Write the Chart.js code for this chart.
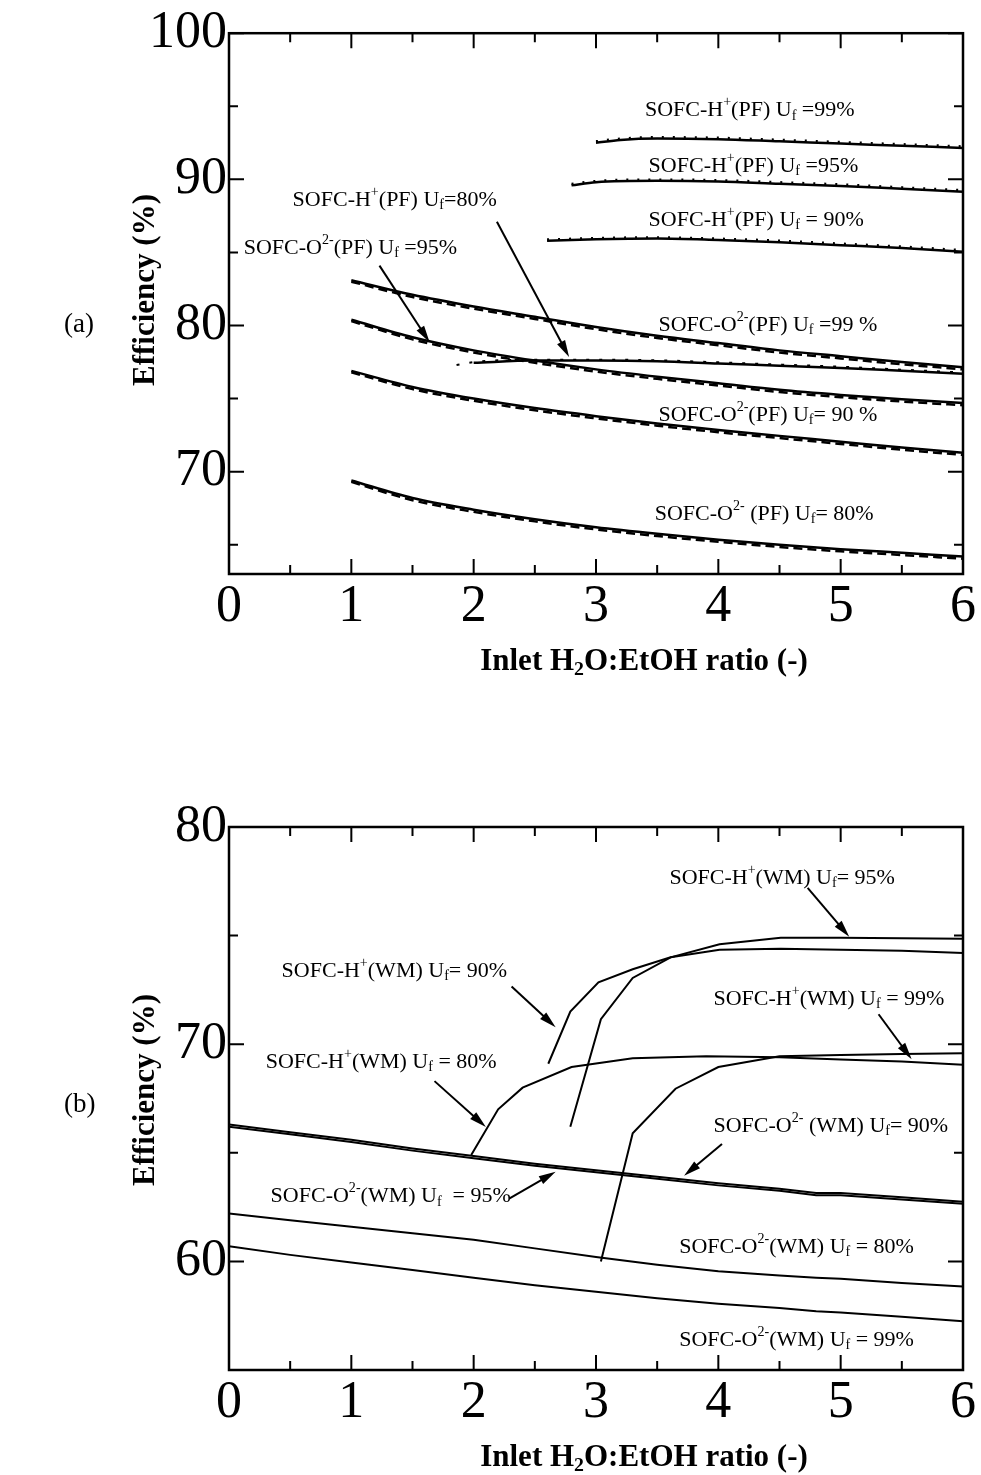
<!DOCTYPE html>
<html>
<head>
<meta charset="utf-8">
<script src="https://cdn.jsdelivr.net/npm/chart.js@4.4.1/dist/chart.umd.min.js"></script>
<style>
  html, body { margin: 0; padding: 0; background: #fff; }
  #page { position: relative; width: 981px; height: 1475px; overflow: hidden; background: #fff; }
  canvas { position: absolute; left: 0; }
  #chartA { top: 0; }
  #chartB { top: 760px; }
  .panel { position: absolute; left: 64px; font: 27px "Liberation Serif", serif; color: #000; }
</style>
</head>
<body>
<div id="page">
  <canvas id="chartA" width="981" height="700"></canvas>
  <canvas id="chartB" width="981" height="715"></canvas>
  <div class="panel" style="top:308px">(a)</div>
  <div class="panel" style="top:1088px">(b)</div>
</div>
<script>
// ---- shared axis ticks ----
const xMajor = [0, 1, 2, 3, 4, 5, 6];
const xMinor = [0.5, 1.5, 2.5, 3.5, 4.5, 5.5];

// ---- (a) PF: efficiency vs inlet H2O:EtOH ratio ----
const yMajorA = [70, 80, 90, 100];
const yMinorA = [65, 75, 85, 95];

const pfX_O = [1, 1.5, 2, 2.5, 3, 3.5, 4, 4.5, 5, 5.5, 6];
const pfO99 = [83.1, 82.1, 81.3, 80.6, 79.9, 79.3, 78.8, 78.3, 77.9, 77.5, 77.15];
const pfO99b = [83.0, 81.95, 81.15, 80.45, 79.75, 79.15, 78.65, 78.15, 77.75, 77.35, 77.0];
const pfO95 = [80.4, 79.2, 78.3, 77.6, 77.0, 76.5, 76.05, 75.6, 75.25, 74.95, 74.7];
const pfO95b = [80.3, 79.05, 78.15, 77.45, 76.85, 76.35, 75.9, 75.45, 75.1, 74.8, 74.55];
const pfO90 = [76.9, 75.8, 75.0, 74.35, 73.8, 73.3, 72.85, 72.45, 72.05, 71.65, 71.3];
const pfO90b = [76.8, 75.65, 74.85, 74.2, 73.65, 73.15, 72.7, 72.3, 71.9, 71.5, 71.15];
const pfO80 = [69.4, 68.2, 67.4, 66.75, 66.2, 65.75, 65.35, 65.0, 64.7, 64.45, 64.2];
const pfO80b = [69.3, 68.05, 67.25, 66.6, 66.05, 65.6, 65.2, 64.85, 64.55, 64.3, 64.05];

const pfX_H99 = [3.0, 3.2, 3.5, 4, 4.5, 5, 5.5, 6];
const pfH99 = [92.5, 92.7, 92.8, 92.75, 92.6, 92.45, 92.3, 92.15];
const pfH99b = [92.6, 92.78, 92.88, 92.84, 92.7, 92.55, 92.4, 92.25];
const pfX_H95 = [2.8, 3.0, 3.5, 4, 4.5, 5, 5.5, 6];
const pfH95 = [89.6, 89.8, 89.9, 89.85, 89.7, 89.55, 89.35, 89.15];
const pfH95b = [89.68, 89.88, 89.98, 89.94, 89.8, 89.65, 89.45, 89.25];
const pfX_H90 = [2.6, 3.0, 3.5, 4, 4.5, 5, 5.5, 6];
const pfH90 = [85.8, 85.9, 85.95, 85.85, 85.7, 85.5, 85.3, 85.05];
const pfH90b = [85.88, 85.98, 86.03, 85.94, 85.8, 85.6, 85.4, 85.15];
const pfX_H80 = [2.0, 2.5, 3, 3.5, 4, 4.5, 5, 5.5, 6];
const pfH80 = [77.45, 77.6, 77.6, 77.55, 77.4, 77.25, 77.1, 76.9, 76.7];
const pfX_H80b = [1.86, 2.0, 2.5, 3, 3.5, 4, 4.5, 5, 5.5, 6];
const pfH80b = [77.3, 77.5, 77.66, 77.66, 77.62, 77.48, 77.33, 77.18, 76.98, 76.78];

// ---- (b) WM ----
const yMajorB = [60, 70, 80];
const yMinorB = [55, 65, 75];

const wmX_O = [0, 0.5, 1, 1.5, 2, 2.5, 3, 3.5, 4, 4.5, 4.8, 5, 5.5, 6];
const wmO95 = [66.3, 65.95, 65.6, 65.2, 64.85, 64.5, 64.2, 63.9, 63.6, 63.35, 63.15, 63.15, 62.95, 62.75];
const wmO90 = [66.2, 65.85, 65.5, 65.1, 64.75, 64.4, 64.1, 63.8, 63.5, 63.25, 63.05, 63.05, 62.85, 62.65];
const wmO80 = [62.2, 61.9, 61.6, 61.3, 61.0, 60.6, 60.2, 59.85, 59.55, 59.35, 59.25, 59.2, 59.0, 58.85];
const wmO99 = [60.7, 60.3, 59.95, 59.6, 59.25, 58.9, 58.6, 58.3, 58.05, 57.85, 57.7, 57.65, 57.45, 57.25];

const wmX_H80 = [1.98, 2.2, 2.4, 2.8, 3.3, 3.9, 4.5, 5, 5.5, 6];
const wmH80 = [64.9, 67.0, 68.0, 68.95, 69.35, 69.45, 69.4, 69.3, 69.2, 69.05];
const wmX_H90 = [2.61, 2.79, 3.02, 3.3, 3.61, 4.01, 4.51, 5, 5.5, 6];
const wmH90 = [69.1, 71.5, 72.85, 73.45, 74.0, 74.35, 74.4, 74.35, 74.3, 74.2];
const wmX_H95 = [2.79, 3.04, 3.3, 3.61, 4.01, 4.51, 5, 5.5, 6];
const wmH95 = [66.2, 71.15, 73.05, 74.0, 74.6, 74.9, 74.9, 74.88, 74.85];
const wmX_H99 = [3.04, 3.3, 3.65, 4.0, 4.5, 5, 5.5, 6];
const wmH99 = [60.0, 65.9, 67.95, 68.95, 69.45, 69.5, 69.55, 69.58];

// curve labels: rich text parts, anchored at (ratio, efficiency) of their left/middle
const H = (pre, tail) => [['SOFC-H', ''], ['+', 'sup'], [pre + ' U', ''], ['f', 'sub'], [tail, '']];
const O = (pre, tail) => [['SOFC-O', ''], ['2-', 'sup'], [pre + ' U', ''], ['f', 'sub'], [tail, '']];

const labelsA = [
  { at: [3.40, 94.7], parts: H('(PF)', ' =99%') },
  { at: [3.43, 90.9], parts: H('(PF)', ' =95%') },
  { at: [3.43, 87.2], parts: H('(PF)', ' = 90%') },
  { at: [0.52, 88.6], parts: H('(PF)', '=80%') },
  { at: [0.12, 85.3], parts: O('(PF)', ' =95%') },
  { at: [3.51, 80.0], parts: O('(PF)', ' =99 %') },
  { at: [3.51, 73.85], parts: O('(PF)', '= 90 %') },
  { at: [3.48, 67.1], parts: O(' (PF)', '= 80%') }
];
const arrowsA = [
  [[2.19, 87.1], [2.78, 77.84]],
  [[1.23, 84.1], [1.64, 78.85]]
];

const labelsB = [
  { at: [3.60, 77.66], parts: H('(WM)', '= 95%') },
  { at: [0.43, 73.35], parts: H('(WM)', '= 90%') },
  { at: [3.96, 72.06], parts: H('(WM)', ' = 99%') },
  { at: [0.30, 69.17], parts: H('(WM)', ' = 80%') },
  { at: [3.96, 66.24], parts: O(' (WM)', '= 90%') },
  { at: [0.34, 62.98], parts: O('(WM)', '  = 95%') },
  { at: [3.68, 60.64], parts: O('(WM)', ' = 80%') },
  { at: [3.68, 56.38], parts: O('(WM)', ' = 99%') }
];
const arrowsB = [
  [[4.73, 77.2], [5.07, 74.95]],
  [[2.31, 72.66], [2.67, 70.78]],
  [[5.31, 71.38], [5.58, 69.31]],
  [[1.68, 68.3], [2.10, 66.19]],
  [[4.03, 65.41], [3.72, 63.94]],
  [[2.29, 62.89], [2.67, 64.13]]
];

const SERIF = '"Liberation Serif", "Times New Roman", serif';

function pts(xs, ys) {
  return xs.map((x, i) => ({ x: x, y: ys[i] }));
}

function line(xs, ys, width, dash) {
  return {
    data: pts(xs, ys),
    borderColor: '#000',
    borderWidth: width,
    borderDash: dash || [],
    pointRadius: 0,
    fill: false,
    cubicInterpolationMode: 'monotone'
  };
}

function polyline(xs, ys, width) {
  return { data: pts(xs, ys), borderColor: '#000', borderWidth: width, pointRadius: 0, fill: false, tension: 0 };
}

function drawRich(ctx, parts, x, y, size, bold) {
  let cx = x;
  parts.forEach(([txt, mode]) => {
    const s = mode ? size * 0.64 : size;
    ctx.font = (bold ? 'bold ' : '') + s + 'px ' + SERIF;
    const dy = mode === 'sup' ? -size * 0.36 : (mode === 'sub' ? size * 0.24 : 0);
    ctx.fillText(txt, cx, y + dy);
    cx += ctx.measureText(txt).width;
  });
  return cx - x;
}

function richWidth(ctx, parts, size, bold) {
  let w = 0;
  parts.forEach(([txt, mode]) => {
    const s = mode ? size * 0.64 : size;
    ctx.font = (bold ? 'bold ' : '') + s + 'px ' + SERIF;
    w += ctx.measureText(txt).width;
  });
  return w;
}

function arrow(ctx, x1, y1, x2, y2) {
  const a = Math.atan2(y2 - y1, x2 - x1);
  const len = 17, half = 4.5;
  ctx.beginPath();
  ctx.moveTo(x1, y1);
  ctx.lineTo(x2 - Math.cos(a) * len * 0.8, y2 - Math.sin(a) * len * 0.8);
  ctx.lineWidth = 2;
  ctx.stroke();
  ctx.beginPath();
  ctx.moveTo(x2, y2);
  ctx.lineTo(x2 - Math.cos(a) * len + Math.sin(a) * half, y2 - Math.sin(a) * len - Math.cos(a) * half);
  ctx.lineTo(x2 - Math.cos(a) * len - Math.sin(a) * half, y2 - Math.sin(a) * len + Math.cos(a) * half);
  ctx.closePath();
  ctx.fill();
}

// frame, inward ticks on all four sides, axis titles, curve labels and arrows
function decorPlugin(cfg) {
  return {
    id: 'panelDecor',
    afterDatasetsDraw(chart) {
      const ctx = chart.ctx;
      const { left, right, top, bottom } = chart.chartArea;
      const xs = chart.scales.x, ys = chart.scales.y;
      ctx.save();
      ctx.strokeStyle = '#000';
      ctx.fillStyle = '#000';
      ctx.lineWidth = 2.5;
      ctx.strokeRect(left, top, right - left, bottom - top);

      ctx.lineWidth = 2;
      const tick = (vals, len) => {
        vals.forEach(v => {
          const px = xs.getPixelForValue(v);
          ctx.beginPath();
          ctx.moveTo(px, bottom); ctx.lineTo(px, bottom - len);
          ctx.moveTo(px, top); ctx.lineTo(px, top + len);
          ctx.stroke();
        });
      };
      const ytick = (vals, len) => {
        vals.forEach(v => {
          const py = ys.getPixelForValue(v);
          ctx.beginPath();
          ctx.moveTo(left, py); ctx.lineTo(left + len, py);
          ctx.moveTo(right, py); ctx.lineTo(right - len, py);
          ctx.stroke();
        });
      };
      tick(xMajor, 15); tick(xMinor, 9);
      ytick(cfg.yMajor, 15); ytick(cfg.yMinor, 9);

      ctx.textBaseline = 'middle';
      ctx.textAlign = 'left';
      cfg.labels.forEach(l => {
        drawRich(ctx, l.parts, xs.getPixelForValue(l.at[0]), ys.getPixelForValue(l.at[1]), 22, false);
      });
      cfg.arrows.forEach(([p, q]) => {
        arrow(ctx, xs.getPixelForValue(p[0]), ys.getPixelForValue(p[1]),
                   xs.getPixelForValue(q[0]), ys.getPixelForValue(q[1]));
      });

      // x title with subscript
      const xt = [['Inlet H', ''], ['2', 'sub'], ['O:EtOH ratio (-)', '']];
      const w = richWidth(ctx, xt, 31, true);
      drawRich(ctx, xt, 644 - w / 2, bottom + 88, 31, true);

      // y title
      ctx.translate(146, cfg.yTitleY);
      ctx.rotate(-Math.PI / 2);
      ctx.textAlign = 'center';
      ctx.font = 'bold 31px ' + SERIF;
      ctx.fillText('Efficiency (%)', 0, 0);
      ctx.restore();
    }
  };
}

function makePanel(canvas, cfg) {
  const h = canvas.height;
  return new Chart(canvas, {
    type: 'line',
    data: { datasets: cfg.datasets },
    options: {
      responsive: false,
      animation: false,
      devicePixelRatio: 1,
      layout: { padding: { top: cfg.top, right: 18, left: 0, bottom: 0 } },
      plugins: { legend: { display: false }, tooltip: { enabled: false } },
      scales: {
        x: {
          type: 'linear', min: 0, max: 6,
          afterBuildTicks: s => { s.ticks = xMajor.map(v => ({ value: v })); },
          afterFit: s => { s.height = h - cfg.bottom; },
          grid: { display: false, drawTicks: false },
          border: { display: false },
          ticks: { color: '#000', padding: 2, maxRotation: 0, autoSkip: false, font: { family: SERIF, size: 52 } }
        },
        y: {
          type: 'linear', min: cfg.yMin, max: cfg.yMax,
          afterBuildTicks: s => { s.ticks = cfg.yMajor.map(v => ({ value: v })); },
          afterFit: s => { s.width = 229; },
          grid: { display: false, drawTicks: false },
          border: { display: false },
          ticks: { color: '#000', padding: 2, font: { family: SERIF, size: 52 } }
        }
      }
    },
    plugins: [decorPlugin(cfg)]
  });
}

makePanel(document.getElementById('chartA'), {
  top: 27, bottom: 574, yMin: 63, yMax: 100, yTitleY: 290,
  yMajor: yMajorA, yMinor: yMinorA, labels: labelsA, arrows: arrowsA,
  datasets: [
    line(pfX_O, pfO99b, 2.5, [9, 5]), line(pfX_O, pfO99, 2.5),
    line(pfX_O, pfO95b, 2.5, [9, 5]), line(pfX_O, pfO95, 2.5),
    line(pfX_O, pfO90b, 2.5, [9, 5]), line(pfX_O, pfO90, 2.5),
    line(pfX_O, pfO80b, 2.5, [9, 5]), line(pfX_O, pfO80, 2.5),
    line(pfX_H99, pfH99b, 2.5, [2, 9]), line(pfX_H99, pfH99, 2.5),
    line(pfX_H95, pfH95b, 2.5, [2, 9]), line(pfX_H95, pfH95, 2.5),
    line(pfX_H90, pfH90b, 2.5, [2, 9]), line(pfX_H90, pfH90, 2.5),
    line(pfX_H80b, pfH80b, 2, [3, 10]), line(pfX_H80, pfH80, 2.5)
  ]
});

makePanel(document.getElementById('chartB'), {
  top: 67, bottom: 610, yMin: 55, yMax: 80, yTitleY: 330,
  yMajor: yMajorB, yMinor: yMinorB, labels: labelsB, arrows: arrowsB,
  datasets: [
    polyline(wmX_O, wmO95, 2), polyline(wmX_O, wmO90, 2),
    polyline(wmX_O, wmO80, 2), polyline(wmX_O, wmO99, 2),
    polyline(wmX_H80, wmH80, 2), polyline(wmX_H90, wmH90, 2),
    polyline(wmX_H95, wmH95, 2), polyline(wmX_H99, wmH99, 2)
  ]
});
</script>
</body>
</html>
